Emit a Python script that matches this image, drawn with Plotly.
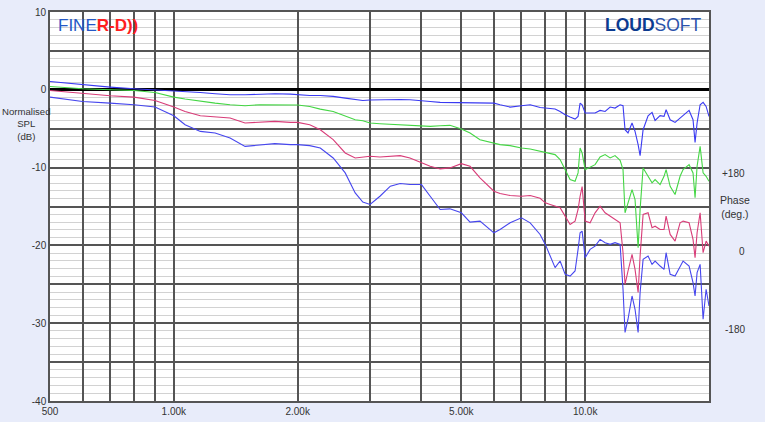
import plotly.graph_objects as go

# ---------------- data ----------------
freq_hz = [500, 600, 700, 800, 900, 1000, 1065, 1160, 1260, 1370, 1490, 1620, 1760, 1920, 2000,
           2140, 2270, 2440, 2610, 2760, 2880, 3000, 3170, 3360, 3550, 3750, 4000, 4200, 4440,
           4690, 5000, 5250, 5550, 6000, 6210, 6570, 7000, 7350,
           7770, 8000, 8220, 8450, 8690, 8940, 9190, 9450, 9610,
           9720, 9830, 10000, 10280, 10570, 10870, 11180, 11500, 11820, 12160, 12360, 12500,
           12710, 13000, 13220, 13450, 13600, 13830, 14220, 14540, 14790, 15210, 15550, 15730,
           16090, 16540, 17010, 17300, 17890, 18290, 18500, 18710, 19030, 19350, 19680, 20000]

spl_top_blue = [1.06, 0.64, 0.35, 0.13, 0.0, -0.09, -0.22, -0.35, -0.51, -0.64, -0.64, -0.55, -0.51, -0.55, -0.62,
                -0.73, -0.73, -0.85, -1.07, -1.28, -1.37, -1.32, -1.28, -1.28, -1.24, -1.28, -1.37, -1.5, -1.62,
                -1.62, -1.62, -1.67, -1.62, -1.71, -1.92, -2.22, -2.05, -1.92,
                -2.27, -2.35, -2.35, -2.47, -2.78, -3.21, -3.5, -3.76, -3.42,
                -1.71, -1.92, -2.99, -2.99, -2.99, -2.65, -2.78, -2.22, -2.35, -1.92, -2.05, -5.13,
                -5.55, -4.27, -5.35, -7.05, -8.46, -5.13, -3.33, -2.91, -3.94, -3.33, -3.42, -2.56,
                -3.85, -4.19, -3.63, -3.21, -2.65, -3.85, -6.76, -4.27, -1.92, -1.62, -2.14, -3.42]

spl_green = [0.42, 0.13, 0.0, -0.09, -0.35, -0.94, -1.19, -1.5, -1.71, -1.92, -2.05, -1.92, -1.92, -1.92, -1.95,
             -2.14, -2.48, -2.78, -3.42, -3.85, -3.97, -4.27, -4.36, -4.44, -4.49, -4.62, -4.70, -4.70, -4.62,
             -4.57, -5.04, -5.55, -6.41, -6.92, -7.05, -7.18, -7.48, -7.61,
             -7.91, -8.04, -8.12, -8.33, -8.97, -10.26, -11.54, -11.76, -10.68,
             -7.47, -8.12, -10.26, -9.91, -9.62, -8.63, -8.33, -8.76, -8.46, -9.06, -10.26, -15.81,
             -14.53, -12.82, -14.1, -20.29, -15.38, -10.04, -11.12, -11.96, -11.54, -12.18, -11.12, -10.26,
             -12.4, -13.46, -11.12, -10.26, -9.62, -10.68, -13.88, -9.83, -7.27, -10.68, -11.12, -11.76]

spl_red = [-0.09, -0.51, -0.77, -0.94, -1.37, -2.22, -2.78, -3.33, -3.5, -3.63, -4.27, -4.19, -4.06, -4.19, -4.19,
           -4.49, -5.13, -6.41, -8.12, -8.76, -8.63, -8.55, -8.63, -8.55, -8.46, -8.76, -9.4, -9.83, -10.17,
           -10.04, -9.49, -9.83, -11.32, -13.03, -13.33, -13.59, -13.68, -13.59,
           -13.95, -14.53, -14.74, -14.96, -15.17, -16.24, -17.31, -16.88, -15.38,
           -13.68, -12.44, -16.88, -17.09, -15.81, -14.96, -15.81, -16.24, -16.67, -17.09, -20.94, -25.0,
           -23.29, -21.15, -23.08, -26.06, -21.37, -16.03, -15.81, -17.73, -17.53, -17.95, -17.95, -16.24,
           -18.59, -19.45, -17.09, -16.88, -17.09, -19.23, -21.58, -18.37, -15.81, -20.94, -19.45, -20.09]

spl_low_blue = [-0.94, -1.5, -1.71, -1.92, -2.22, -3.33, -4.49, -5.35, -5.55, -6.19, -7.27, -7.05, -6.92, -7.05, -7.05,
                -7.18, -7.48, -8.76, -10.68, -13.25, -14.44, -14.74, -13.68, -12.39, -12.05, -12.18, -12.18, -13.68, -15.38,
                -15.3, -15.81, -17.01, -16.88, -18.38, -17.95, -17.1, -16.45, -17.1,
                -18.6, -19.87, -21.37, -22.86, -22.01, -23.72, -23.94, -23.29, -20.51,
                -18.37, -18.17, -21.58, -20.51, -20.09, -19.23, -19.65, -19.87, -19.65, -19.87, -25.64, -31.19,
                -29.49, -26.5, -28.21, -31.19, -26.06, -21.79, -21.37, -22.44, -22.01, -22.65, -23.08, -20.94,
                -23.72, -23.94, -22.65, -22.01, -22.65, -24.78, -26.5, -23.5, -22.44, -29.49, -25.64, -27.78]

x_grid_vals = [500, 600, 700, 800, 900, 1000, 2000, 3000, 4000, 5000, 6000, 7000, 8000, 9000, 10000]
x_grid_text = ["500", "", "", "", "", "1.00k", "2.00k", "", "", "5.00k", "", "", "", "", "10.0k"]
y_tick_vals = [-40, -35, -30, -25, -20, -15, -10, -5, 0, 5, 10]
y_tick_text = ["-40", "", "-30", "", "-20", "", "-10", "", "0", "", "10"]
phase_labels = ["+180", "0", "-180"]
phase_at_db = [-10, -20, -30]

# ---------------- figure ----------------
FONT = "Liberation Sans, Arial, sans-serif"
BG = "#e8ecfa"
fig = go.Figure()

series = [
    (spl_top_blue, "#3a3af2"),
    (spl_green, "#44d644"),
    (spl_red, "#d83c78"),
    (spl_low_blue, "#4646ee"),
]
for vals, col in series:
    fig.add_trace(go.Scatter(x=freq_hz, y=vals, mode="lines",
                             line=dict(color=col, width=1.1), showlegend=False,
                             hoverinfo="skip"))

fig.update_xaxes(type="log", range=[2.69897, 4.30103], automargin=False,
                 tickmode="array", tickvals=x_grid_vals, ticktext=x_grid_text,
                 showgrid=True, gridcolor="#555555", gridwidth=1.6,
                 showline=True, mirror=True, linecolor="#555555", linewidth=1.6,
                 ticks="", zeroline=False,
                 tickfont=dict(family=FONT, size=10, color="#333333"))
fig.update_yaxes(range=[-40, 10], automargin=False,
                 tickmode="array", tickvals=y_tick_vals, ticktext=y_tick_text,
                 showgrid=True, gridcolor="#555555", gridwidth=1.6,
                 minor=dict(dtick=1, showgrid=True, gridcolor="#d2d2d2", gridwidth=1.4),
                 zeroline=True, zerolinecolor="#000000", zerolinewidth=3,
                 showline=True, mirror=True, linecolor="#555555", linewidth=1.6,
                 ticks="",
                 tickfont=dict(family=FONT, size=10, color="#333333"))

annotations = []
# left axis title
annotations.append(dict(text="Normalised<br>SPL<br>(dB)", xref="paper", yref="paper",
                        x=(26 - 50) / 659, y=(401 - 124) / 389, xanchor="center", yanchor="middle",
                        showarrow=False, font=dict(family=FONT, size=9.6, color="#333333")))
# right phase labels
for lab, db in zip(phase_labels, phase_at_db):
    annotations.append(dict(text=lab, xref="paper", yref="y", x=(747 - 50) / 659, y=db,
                            yshift=-6, xanchor="right", yanchor="middle", showarrow=False,
                            font=dict(family=FONT, size=10, color="#333333")))
annotations.append(dict(text="Phase<br>(deg.)", xref="paper", yref="paper",
                        x=(735 - 50) / 659, y=(401 - 207) / 389, xanchor="center", yanchor="middle",
                        showarrow=False, font=dict(family=FONT, size=10.5, color="#333333")))
# logos
annotations.append(dict(text="<span style='color:#2458c6'>FINE</span><b><span style='color:#ff1e1e'>R-D))</span></b>",
                        xref="paper", yref="paper", x=(56 - 50) / 659, y=(401 - 25) / 389,
                        xanchor="left", yanchor="middle", showarrow=False,
                        font=dict(family=FONT, size=17)))
annotations.append(dict(text="<b><span style='color:#0b3a8f'>LOUD</span></b><span style='color:#2a52aa'>SOFT</span>",
                        xref="paper", yref="paper", x=(704 - 50) / 659, y=(401 - 25) / 389,
                        xanchor="right", yanchor="middle", showarrow=False,
                        font=dict(family=FONT, size=17.5)))

fig.update_layout(width=765, height=422,
                  margin=dict(l=50, r=56, t=12, b=21),
                  paper_bgcolor=BG, plot_bgcolor="#ffffff",
                  annotations=annotations, showlegend=False,
                  font=dict(family=FONT))

fig.write_html("out.html", config={"displayModeBar": False},
               post_script="document.body.style.margin='0';document.body.style.background='%s';" % BG)
